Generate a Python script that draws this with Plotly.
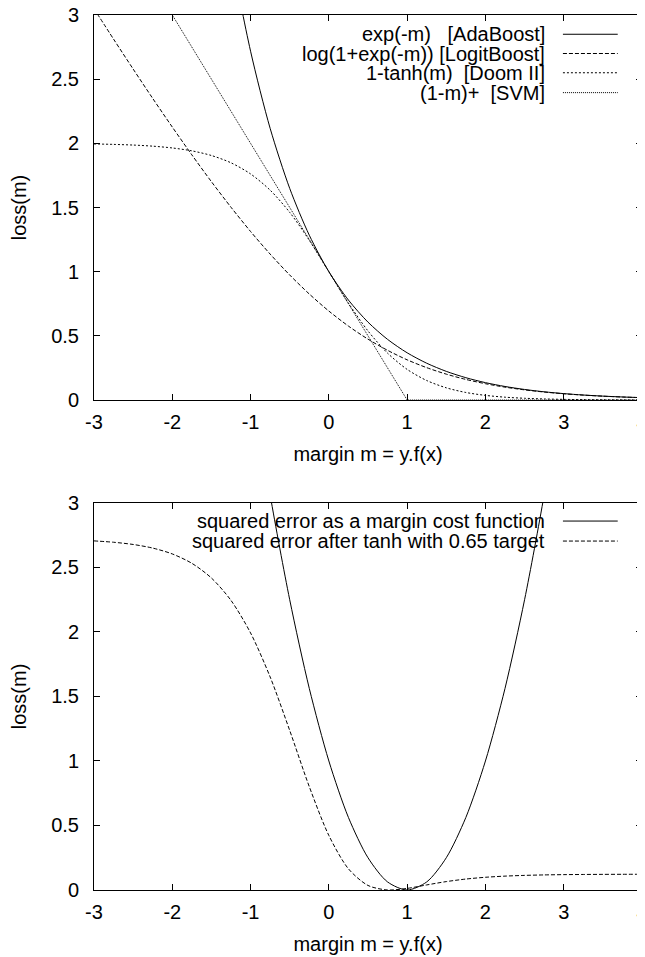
import plotly.graph_objects as go

# margin values shared by most curves (at 0.25 steps)
m_grid = [-3.0, -2.75, -2.5, -2.25, -2.0, -1.75, -1.5, -1.25, -1.0, -0.75,
          -0.5, -0.25, 0.0, 0.25, 0.5, 0.75, 1.0, 1.25, 1.5, 1.75,
          2.0, 2.25, 2.5, 2.75, 3.0, 3.25, 3.5, 3.75, 4.0]

# --- top panel ---
m_ada = m_grid[6:]
loss_ada = [4.482, 3.490, 2.718, 2.117, 1.649, 1.284, 1.0, 0.7788, 0.6065,
            0.4724, 0.3679, 0.2865, 0.2231, 0.1738, 0.1353, 0.1054, 0.0821,
            0.0639, 0.0498, 0.0388, 0.0302, 0.0235, 0.0183]

loss_logit = [3.049, 2.812, 2.579, 2.350, 2.127, 1.910, 1.701, 1.502, 1.313,
              1.137, 0.974, 0.826, 0.693, 0.576, 0.474, 0.387, 0.313, 0.252,
              0.2014, 0.1602, 0.1269, 0.1002, 0.0789, 0.0620, 0.0486, 0.0381,
              0.0298, 0.0233, 0.0181]

loss_doom = [1.9951, 1.9918, 1.9866, 1.9780, 1.9640, 1.9414, 1.9051, 1.8483,
             1.7616, 1.6351, 1.4621, 1.2449, 1.0, 0.7551, 0.5379, 0.3649,
             0.2384, 0.1517, 0.0949, 0.0586, 0.0360, 0.0220, 0.0134, 0.0082,
             0.0049, 0.0030, 0.0018, 0.0011, 0.0007]

m_svm = [-3.0, 1.0, 4.0]
loss_svm = [4.0, 0.0, 0.0]

# --- bottom panel ---
m_sq = m_grid[8:25]
loss_sq = [4.0, 3.0625, 2.25, 1.5625, 1.0, 0.5625, 0.25, 0.0625, 0.0,
           0.0625, 0.25, 0.5625, 1.0, 1.5625, 2.25, 3.0625, 4.0]

loss_sqtanh = [2.7062, 2.6957, 2.6785, 2.6505, 2.6051, 2.5325, 2.4185,
               2.2448, 1.9926, 1.6516, 1.2368, 0.8009, 0.4225, 0.1641,
               0.0353, 0.0002, 0.0125, 0.0393, 0.0651, 0.0849, 0.0986,
               0.1076, 0.1133, 0.1169, 0.1191, 0.1204, 0.1212, 0.1217, 0.1220]

x_ticks = [-3, -2, -1, 0, 1, 2, 3, 4]
x_ticktext = ["-3", "-2", "-1", "0", "1", "2", "3", "4"]

top_labels = ["exp(-m)   [AdaBoost]", "log(1+exp(-m)) [LogitBoost]",
              "1-tanh(m)  [Doom II]", "(1-m)+  [SVM]"]
bottom_labels = ["squared error as a margin cost function",
                 "squared error after tanh with 0.65 target"]

FONT = "Liberation Sans, Arial, Helvetica, sans-serif"
FS = 20
INK = "#000000"

DASH_SOLID = "solid"
DASH_LOGIT = "4px,2px"
DASH_DOOM = "2px,2px"
DASH_SVM = "1px,1px"

fig = go.Figure()

def add_line(x, y, dash, xa, ya, spline=True):
    fig.add_trace(go.Scatter(
        x=x, y=y, mode="lines", xaxis=xa, yaxis=ya, showlegend=False,
        line=dict(color=INK, width=1, dash=dash,
                  shape="spline" if spline else "linear", smoothing=0.8),
        hoverinfo="skip"))

add_line(m_ada, loss_ada, DASH_SOLID, "x", "y")
add_line(m_grid, loss_logit, DASH_LOGIT, "x", "y")
add_line(m_grid, loss_doom, DASH_DOOM, "x", "y")
add_line(m_svm, loss_svm, DASH_SVM, "x", "y", spline=False)

add_line(m_sq, loss_sq, DASH_SOLID, "x2", "y2")
add_line(m_grid, loss_sqtanh, DASH_LOGIT, "x2", "y2")

axis_common = dict(
    showline=True, linecolor=INK, linewidth=1, mirror="ticks",
    ticks="inside", ticklen=6, tickwidth=1, tickcolor=INK,
    showgrid=False, zeroline=False, automargin=False,
    tickfont=dict(family=FONT, size=FS, color=INK),
)

xaxis_common = dict(axis_common, range=[-3, 4], tickvals=x_ticks,
                    ticktext=x_ticktext, ticklabelstandoff=4,
                    ticklabeloverflow="allow",
                    title=dict(text="margin m = y.f(x)", standoff=14,
                               font=dict(family=FONT, size=FS, color=INK)))
yaxis_common = dict(axis_common, range=[0, 3], dtick=0.5, tick0=0,
                    ticklabelstandoff=10, ticklabeloverflow="allow",
                    title=dict(text="loss(m)", standoff=22,
                               font=dict(family=FONT, size=FS, color=INK)))

# the page body adds an 8px offset, so the figure is 8px smaller on each side
fig.update_layout(
    width=637, height=949,
    margin=dict(l=86, r=3, t=7, b=67),
    paper_bgcolor="white", plot_bgcolor="white",
    font=dict(family=FONT, size=FS, color=INK),
    xaxis=dict(xaxis_common, anchor="y"),
    yaxis=dict(yaxis_common, domain=[0.56, 1.0], anchor="x"),
    xaxis2=dict(xaxis_common, anchor="y2"),
    yaxis2=dict(yaxis_common, domain=[0.0, 0.4423], anchor="x2"),
)

# gnuplot-style key: right aligned text, line sample to its right
def add_key(labels, dashes, xa, ya, rows):
    for label, dash, yv in zip(labels, dashes, rows):
        fig.add_annotation(x=2.785, y=yv, xref=xa, yref=ya, text=label,
                           showarrow=False, xanchor="right", yanchor="middle",
                           font=dict(family=FONT, size=FS, color=INK))
        fig.add_shape(type="line", xref=xa, yref=ya, x0=2.99, x1=3.69,
                      y0=yv, y1=yv, line=dict(color=INK, width=1, dash=dash))

add_key(top_labels, [DASH_SOLID, DASH_LOGIT, DASH_DOOM, DASH_SVM], "x", "y",
        [2.85, 2.70, 2.55, 2.395])
add_key(bottom_labels, [DASH_SOLID, DASH_LOGIT], "x2", "y2", [2.86, 2.705])

fig.write_html("out.html")
